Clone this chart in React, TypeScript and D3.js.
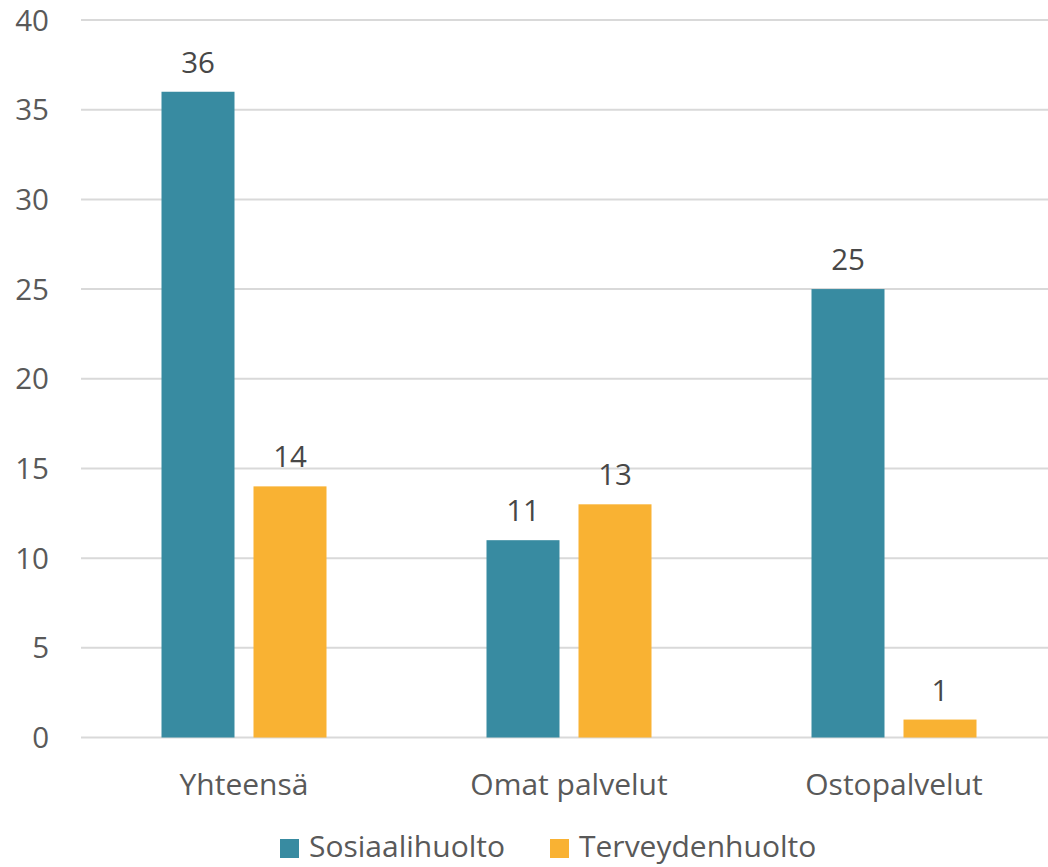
import React from 'react';
import * as d3 from 'd3';

const categories = ['Yhteensä', 'Omat palvelut', 'Ostopalvelut'];
const seriesNames = ['Sosiaalihuolto', 'Terveydenhuolto'];
const sosiaalihuolto = [36, 11, 25];
const terveydenhuolto = [14, 13, 1];
const yTicks = [0, 5, 10, 15, 20, 25, 30, 35, 40];

const colors = ['#388BA1', '#F9B233'];
const textColor = '#595959';
const font = '"Open Sans", "Noto Sans", sans-serif';

const App = () => {
  const width = 1048;
  const height = 867;
  const series = [sosiaalihuolto, terveydenhuolto];

  // category bands, each group of bars centred in its band
  const x0 = d3.scaleBand().domain(categories).range([81.5, 1056.5]).padding(0);
  const groupWidth = 165;
  const x1 = d3.scaleBand()
    .domain(seriesNames)
    .range([0, groupWidth])
    .paddingInner(19 / 92)
    .paddingOuter(0);
  const y = d3.scaleLinear().domain([0, 40]).range([737.5, 20]);

  return (
    <svg width={width} height={height} style={{ display: 'block', position: 'absolute', left: 0, top: 0 }}>
      <rect width={width} height={height} fill="#fff" />
      {/* gridlines */}
      {yTicks.map(t => (
        <line key={t} x1={81} x2={width} y1={y(t)} y2={y(t)} stroke="#d9d9d9" strokeWidth={2} />
      ))}
      {/* y tick labels */}
      {yTicks.map(t => (
        <text key={t} x={49} y={y(t) + 10.5} textAnchor="end" fontFamily={font} fontSize={29.5} fill={textColor}>
          {t}
        </text>
      ))}
      {/* bars */}
      {categories.map((c, ci) => {
        const gx = x0(c)! + (x0.bandwidth() - groupWidth) / 2;
        return (
          <g key={c} transform={`translate(${gx},0)`}>
            {seriesNames.map((s, si) => {
              const v = series[si][ci];
              return (
                <g key={s}>
                  <rect x={x1(s)} y={y(v)} width={x1.bandwidth()} height={y(0) - y(v)} fill={colors[si]} />
                  <text x={x1(s)! + x1.bandwidth() / 2} y={y(v) - 19} textAnchor="middle"
                    fontFamily={font} fontSize={29.5} fill="#474747">{v}</text>
                </g>
              );
            })}
          </g>
        );
      })}
      {/* category labels */}
      {categories.map(c => (
        <text key={c} x={x0(c)! + x0.bandwidth() / 2} y={795} textAnchor="middle"
          fontFamily={font} fontSize={30} fill={textColor}>{c}</text>
      ))}
      {/* legend */}
      {seriesNames.map((s, i) => {
        const lx = [280, 550][i];
        return (
          <g key={s}>
            <rect x={lx} y={839} width={19} height={19} fill={colors[i]} />
            <text x={lx + 29} y={857} fontFamily={font} fontSize={30} fill={textColor}>{s}</text>
          </g>
        );
      })}
    </svg>
  );
};

export default App;
